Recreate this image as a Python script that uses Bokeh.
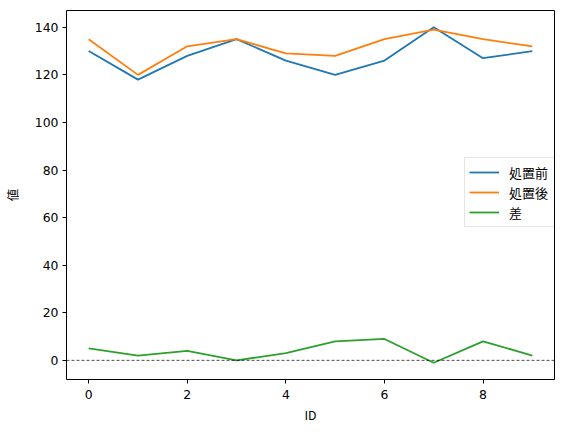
from bokeh.plotting import figure
from bokeh.models import Span, Range1d, Legend, LegendItem, FixedTicker
from bokeh.embed import file_html
from bokeh.resources import INLINE

ids = [0, 1, 2, 3, 4, 5, 6, 7, 8, 9]
before = [130, 118, 128, 135, 126, 120, 126, 140, 127, 130]
after = [135, 120, 132, 135, 129, 128, 135, 139, 135, 132]
diff = [5, 2, 4, 0, 3, 8, 9, -1, 8, 2]
labels = ["処置前", "処置後", "差"]
colors = ["#1f77b4", "#ff7f0e", "#2ca02c"]

p = figure(width=560, height=426, output_backend="svg", toolbar_location=None,
           x_range=Range1d(-0.45, 9.45), y_range=Range1d(-8.05, 147.05),
           min_border_left=57, min_border_right=6, min_border_top=10, min_border_bottom=36)

p.xgrid.visible = False
p.ygrid.visible = False
p.outline_line_color = "black"
p.outline_line_width = 1
p.background_fill_color = "white"
p.border_fill_color = "white"

p.xaxis.ticker = FixedTicker(ticks=[0, 2, 4, 6, 8])
p.yaxis.ticker = FixedTicker(ticks=[0, 20, 40, 60, 80, 100, 120, 140])
for ax in (p.xaxis[0], p.yaxis[0]):
    ax.axis_line_color = None
    ax.major_tick_in = 0
    ax.major_tick_out = 4
    ax.minor_tick_line_color = None
    ax.major_tick_line_color = "black"
    ax.major_label_text_font = "DejaVu Sans"
    ax.major_label_text_font_size = "12.4px"
    ax.major_label_text_color = "black"
    ax.axis_label_text_font = "Noto Sans CJK JP"
    ax.axis_label_text_font_size = "12.4px"
    ax.axis_label_text_font_style = "normal"
    ax.axis_label_text_color = "black"

p.xaxis.axis_label = "ID"
p.yaxis.axis_label = "値"
p.xaxis.major_label_standoff = 6
p.yaxis.major_label_standoff = 4
p.xaxis.axis_label_standoff = 4
p.yaxis.axis_label_standoff = 10

zero = Span(location=0, dimension="width", line_color="black", line_width=0.7, line_dash="3 2")
p.add_layout(zero)

r1 = p.line(ids, before, line_color=colors[0], line_width=1.8)
r2 = p.line(ids, after, line_color=colors[1], line_width=1.8)
r3 = p.line(ids, diff, line_color=colors[2], line_width=1.8)

legend = Legend(items=[LegendItem(label=labels[0], renderers=[r1]),
                       LegendItem(label=labels[1], renderers=[r2]),
                       LegendItem(label=labels[2], renderers=[r3])],
                location=(398, 152))
legend.margin = 0
legend.padding = 4
legend.spacing = 0
legend.glyph_width = 30
legend.glyph_height = 20
legend.label_height = 20
legend.label_standoff = 10
legend.label_width = 43
legend.label_text_font = "Noto Sans CJK JP"
legend.label_text_font_size = "13px"
legend.label_text_color = "black"
legend.border_line_color = "#cccccc"
legend.border_line_width = 1
legend.background_fill_alpha = 0.8
p.add_layout(legend, "center")

open("out.html", "w").write(file_html(p, INLINE))
